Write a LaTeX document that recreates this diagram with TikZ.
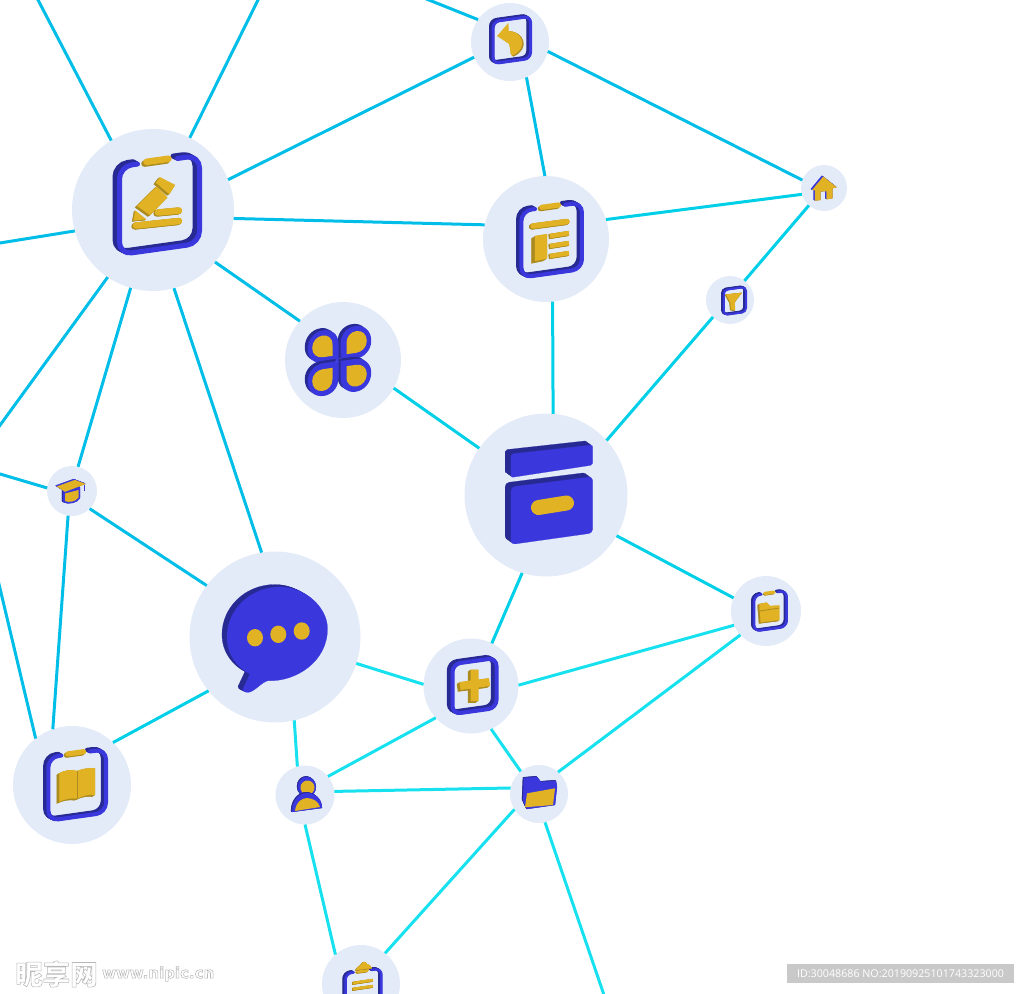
\documentclass[tikz,border=0pt]{standalone}
\usepackage{fontspec}
\usetikzlibrary{positioning}
\newfontfamily\cjkfont{Noto Sans CJK SC}
\newfontfamily\barfont{Open Sans}
\newfontfamily\urlfont{DejaVu Sans}
\definecolor{hubfill}{HTML}{E3EBF8}
\definecolor{netblue}{HTML}{00BEE8}
\definecolor{netmid}{HTML}{00CFE8}
\definecolor{netcyan}{HTML}{18E1EF}
\definecolor{iconblue}{HTML}{3A38DC}
\definecolor{icondark}{HTML}{282A94}
\definecolor{icongold}{HTML}{E0B224}
\definecolor{goldedge}{HTML}{AB8A1E}
\tikzset{
  hub/.style={circle,fill=hubfill,inner sep=0pt,outer sep=0pt,minimum size=#1},
  netline/.style={line width=3pt,draw=#1},
  blueface/.style={fill=iconblue,draw=iconblue,line width=.2pt},
  blueside/.style={fill=icondark,draw=icondark,line width=.2pt},
  goldface/.style={fill=icongold,draw=icongold,line width=.2pt},
  goldside/.style={fill=goldedge,draw=goldedge,line width=.2pt},
  stamp/.style={fill=black!21,text=white,inner sep=0pt,minimum width=227pt,minimum height=19pt,font=\barfont\fontsize{10.7}{12}\selectfont},
}
\newcommand{\solidpart}[5]{%
  \foreach \dd in {.25,.5,.75,1} {\path[#1,shift={(#3*\dd,#4*\dd)}] #5;}
  \path[#2] #5;}
\newcommand{\goldpart}[2]{\solidpart{goldside}{goldface}{-.9*#1}{.6*#1}{#2}}
\newcommand{\bluepart}[2]{\solidpart{blueside}{blueface}{-.9*#1}{-.65*#1}{#2}}
\newcommand{\framepath}{(-22,-44) -- (-40,-44) -- (-40,44) -- (40,44) -- (40,-44) -- (18,-44)}
\newcommand{\clipframe}[3]{%
  \begin{scope}[shift={(#1)},yslant=.14,scale=#2,line cap=round]
    \foreach \dd in {.25,.5,.75,1} {\draw[icondark,line width=#3pt,rounded corners=#3*2.5pt,shift={(-4.5*\dd,-3*\dd)}] \framepath;}
    \draw[iconblue,line width=#3pt,rounded corners=#3*2.5pt] \framepath;
    \draw[goldedge,line width=#3*1.3pt,shift={(-2,1.5)}] (-13,-45) -- (9,-45);
    \draw[icongold,line width=#3*1.3pt] (-13,-45) -- (9,-45);
  \end{scope}}
\newcommand{\fullframe}[4]{%
  \begin{scope}[shift={(#1)},yslant=.14]
    \foreach \dd in {.25,.5,.75,1} {\draw[icondark,line width=#4pt,rounded corners=#4*2pt,shift={(-.9*#4*\dd,-.6*#4*\dd)}] (-#2,-#3) rectangle (#2,#3);}
    \draw[iconblue,line width=#4pt,rounded corners=#4*2pt] (-#2,-#3) rectangle (#2,#3);
  \end{scope}}
\newcommand{\petalpath}{(0,0) -- (0,-16) .. controls (0,-26) and (7,-31) .. (14,-31) .. controls (23,-31) and (29,-24) .. (29,-15) .. controls (29,-6) and (22,0) .. (14,0) -- cycle}
\newcommand{\outlined}[1]{\special{pdf:code q 1 Tr 0.55 w 0.72 0.72 0.72 RG}#1\special{pdf:code Q}}

\begin{document}
\begin{tikzpicture}[x=1pt,y=-1pt]
  \useasboundingbox (0,0) rectangle (1024,993);
  \clip (0,0) rectangle (1024,993);
  \node[hub=162pt] (draft) at (153,210) {};
  \node[hub=78pt] (undo) at (510,42) {};
  \node[hub=126pt] (report) at (546,239) {};
  \node[hub=46pt] (home) at (824,188) {};
  \node[hub=48pt] (filter) at (730,300) {};
  \node[hub=116pt] (apps) at (343,360) {};
  \node[hub=163pt] (box) at (546,495) {};
  \node[hub=50pt] (hat) at (72,491) {};
  \node[hub=171pt] (chat) at (275,637) {};
  \node[hub=95pt] (plus) at (471,686) {};
  \node[hub=70pt] (docfolder) at (766,611) {};
  \node[hub=118pt] (book) at (72,785) {};
  \node[hub=59pt] (user) at (305,795) {};
  \node[hub=58pt] (folder) at (539,794) {};
  \node[hub=78pt] (clipboard) at (361,984) {};
  \coordinate (edgeA) at (37,-2);
  \coordinate (edgeB) at (259,-2);
  \coordinate (edgeC) at (-2,243.3);
  \coordinate (edgeD) at (-2,428);
  \coordinate (edgeE) at (-2,473.4);
  \coordinate (edgeF) at (-2,580);
  \coordinate (edgeG) at (424,-2);
  \coordinate (edgeH) at (604,995);
  \foreach \a/\b in {draft.121.6/edgeA,draft.63.1/edgeB,draft.22.2/undo.-157.2,draft.-6.3/report.167.3,
    draft.-40.1/apps.138.4,draft.-165.8/edgeC,draft.-124.3/edgeD,draft.-106.7/hat.76,draft.-75.3/chat.99.5,
    hat.173.2/edgeE,hat.-99.5/book.109.7,edgeF/book.128.2,hat.-45/chat.143.5,undo.145.5/edgeG,
    undo.-65.9/report.91.8,undo.-14.7/home.160}
    \draw[netline=netblue] (\a) -- (\b);
  \foreach \a/\b in {report.18.2/home.-164.7,home.-131.6/filter.53.1,filter.-135/box.42.5,report.-84.6/box.85.8,
    apps.-29.6/box.145.9,book.46.4/chat.-141.1,box.-107.1/plus.64,box.-30.6/docfolder.158.5}
    \draw[netline=netmid] (\a) -- (\b);
  \foreach \a/\b in {chat.-18.2/plus.178.8,chat.-77.3/user.105.4,plus.-138.5/user.39.6,user.7.6/folder.168.3,
    plus.-65.6/folder.129.3,plus.1.2/docfolder.-156.4,folder.49.2/docfolder.-137.3,folder.-148.4/clipboard.52.3,
    user.-90/clipboard.131.9,folder.-78.3/edgeH}
    \draw[netline=netcyan] (\a) -- (\b);

  % draft
  \clipframe{159.5,205}{1}{5}
  \goldpart{2.5}{(156,182.7) -- (160,177.3) -- (175,185) -- (169.3,194) -- cycle}
  \goldpart{2.5}{(137.3,206) -- (156.7,186.7) -- (167.3,197.3) -- (150,215) -- cycle}
  \goldpart{1.5}{(135.3,210.7) -- (146,219.3) -- (133.5,220.5) -- cycle}
  \goldpart{1.5}{[line width=6.5pt,line cap=round] (158,212.5) -- (179,210.5)}
  \goldpart{1.5}{[line width=6.5pt,line cap=round] (136,225.5) -- (179,221)}

  % report
  \clipframe{551.7,240}{.757}{4}
  \goldpart{1.5}{[line width=5.5pt,line cap=round] (533,226) -- (567,221.5)}
  \goldpart{4}{(535,236) -- (547,234) -- (547,258.5) -- (535,261) -- cycle}
  \goldpart{1.5}{[line width=4.5pt] (550,236) -- (569,233)}
  \goldpart{1.5}{[line width=4.5pt] (550,246) -- (569,243)}
  \goldpart{1.5}{[line width=4.5pt] (550,256) -- (569,253)}

  % undo
  \fullframe{511.85,40}{18.65}{21}{3}
  \solidpart{goldside}{goldface}{1.4}{.8}{[line width=4pt] (507,33) .. controls (520,32) and (527,47) .. (511,54)}
  \path[goldface] (497.3,36) -- (508.3,23.3) -- (509.3,44) -- cycle;

  % home
  \solidpart{blueface}{goldface}{-1.5}{-1}{(823.3,176.7) -- (812.3,190) -- (815,190) -- (815,200.7) -- (820.7,200) -- (820.7,191.7) -- (826.7,191) -- (826.7,199.3) -- (832.7,198.3) -- (832.7,188.3) -- (836.7,187.3) -- cycle}

  % filter
  \fullframe{734.9,301}{11.1}{12.5}{2}
  \goldpart{1}{(726,294.5) -- (741.7,292.7) -- (734.8,302) -- (735,310) -- (731,309.5) -- (730.5,302.7) -- cycle}

  % apps
  \foreach \cx/\sx/\sy in {340.5/1/1,340.5/1/-1,338.5/-1/1,338.5/-1/-1} {
    \fill[icondark,shift={(-3,-2)},shift={(\cx,361)},yslant=.14,xscale=\sx,yscale=\sy,scale=1.06] \petalpath;
    \fill[iconblue,shift={(\cx,361)},yslant=.14,xscale=\sx,yscale=\sy,scale=1.06] \petalpath;
    \fill[icongold,shift={(\cx,361)},yslant=.14,xscale=\sx,yscale=\sy,shift={(6,-6)},scale=.7] \petalpath;
  }

  % box
  \bluepart{6.5}{[rounded corners=2pt] (511,454) -- (592.7,445) -- (592.7,465) -- (511,477.5) -- cycle}
  \bluepart{6.5}{[rounded corners=4pt] (511,487) -- (592.7,476.7) -- (592.7,533) -- (511,544.5) -- cycle}
  \draw[icongold,line width=15pt,line cap=round] (538.5,507.5) -- (566.5,503);

  % hat
  \bluepart{1.2}{(63,491) -- (80,487) -- (80,498) .. controls (78,503) and (68,505) .. (63,502) -- cycle}
  \fill[icongold] (65,493.5) -- (78.5,490) -- (78.5,497.5) .. controls (76,501.5) and (69,503) .. (65,501) -- cycle;
  \solidpart{blueface}{goldface}{-1.4}{-1}{(57,486.5) -- (75,480) -- (85.5,484) -- (65,491.7) -- cycle}
  \draw[iconblue,line width=1.4pt] (84.5,485) -- (84.5,491);

  % chat
  \solidpart{blueside}{blueface}{-5}{-2.5}{(268,680.7) .. controls (295,682) and (328,662) .. (327.5,628) .. controls (327,607) and (305,587) .. (280,587)
    .. controls (250,587) and (227,610) .. (227,637) .. controls (227,655) and (238,668) .. (250,674) -- (243,689)
    .. controls (243,692) and (247,693) .. (250,692) .. controls (256,690) and (262,682) .. (268,680.7) -- cycle}
  \fill[icongold] (255,637.7) circle [x radius=8,y radius=8.7];
  \fill[icongold] (278.3,634.3) circle [x radius=8,y radius=8.7];
  \fill[icongold] (301.7,631) circle [x radius=8,y radius=8.7];

  % plus
  \fullframe{474.5,686}{22}{25}{4}
  \goldpart{3}{[line width=8pt] (460,686) -- (489.5,682) (474.5,669.5) -- (474.5,701)}

  % document folder
  \clipframe{770.4,611}{.408}{2.5}
  \goldpart{2}{(759.3,604) -- (766.7,602.5) -- (770,606) -- (779.3,605.5) -- (779.3,620) -- (760.7,622.3) -- cycle}
  \draw[goldedge,line width=.8pt] (759.5,611) -- (779.3,608);

  % book
  \clipframe{77.2,785}{.72}{4}
  \goldpart{3}{(59.3,773.3) .. controls (65,770) and (72,769) .. (77.5,771) .. controls (83,768.5) and (90,767.5) .. (95,768.3) -- (95,795) .. controls (89,794) and (83,795.5) .. (77.5,798.5) .. controls (71,797.5) and (65,799) .. (59.3,801.7) -- cycle}
  \draw[goldedge,line width=1pt] (77.5,771) -- (77.5,798.5);

  % user
  \bluepart{1.2}{(307,787) circle [x radius=9,y radius=10]}
  \fill[icongold] (307.5,787.5) circle [radius=7];
  \bluepart{1.2}{(292,812) .. controls (292,800) and (300,793) .. (307,793) .. controls (315,793) and (322,799) .. (322,808) -- cycle}
  \fill[icongold] (295,811) .. controls (296,802) and (302,798) .. (307,798) .. controls (313,798) and (319,802) .. (320,807) -- cycle;

  % folder
  \bluepart{1.2}{(524,778) -- (537,777) -- (541,782) -- (556,781) -- (557,787) -- (555,805) -- (527,809) -- (523,800) -- cycle}
  \fill[icongold] (527,793.3) -- (555,788.3) -- (553,805) -- (525,807.3) -- cycle;

  % clipboard
  \clipframe{363.5,990.8}{.449}{2.5}
  \goldpart{1}{(356,970) .. controls (358,966) and (360,966) .. (361,965) .. controls (363,961) and (366,961) .. (367,964) .. controls (369,964) and (371,966) .. (372,968) -- cycle}
  \goldpart{1}{[line width=2.6pt] (353,983) -- (373,980)}
  \goldpart{1}{[line width=2.6pt] (353,989) -- (373,986)}

  \node[inner sep=0pt,anchor=west,font=\cjkfont\bfseries\fontsize{27.5}{29}\selectfont] (logo) at (15,974) {\outlined{昵享网}};
  \node[inner sep=0pt,right=4pt of logo,font=\urlfont\bfseries\fontsize{15}{17}\selectfont] (site) {\outlined{www.nipic.cn}};
  \node[stamp] (idbar) at (900.5,973.5) {ID:30048686 NO:20190925101743323000};
\end{tikzpicture}
\end{document}
